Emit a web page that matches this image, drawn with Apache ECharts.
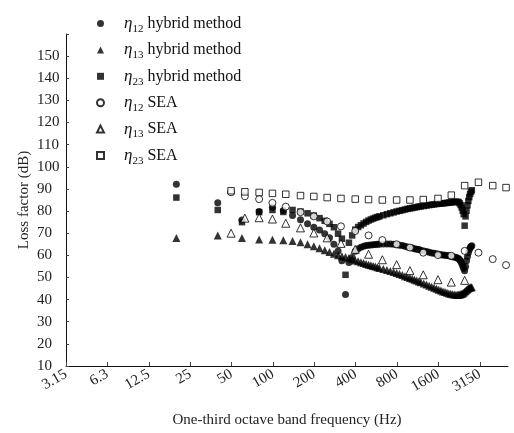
<!DOCTYPE html>
<html><head><meta charset="utf-8">
<script src="https://cdn.jsdelivr.net/npm/echarts/dist/echarts.min.js"></script>
<style>html,body{margin:0;padding:0;background:#fff;}#c{width:514px;height:433px;}</style>
</head><body><div id="c"></div>
<script>
// ---- tick labels (one per octave) ----
const tickLabels = ['3.15','6.3','12.5','25','50','100','200','400','800','1600','3150'];
const baseFreq = 3.15;

// ---- hybrid method (Hz) ----
const hybridFreq = [20,40,60,80,100,120,140,160,180,200,
  220,240,260,280,300,320,340,360,380,400,
  420,440,460,480,500,520,540,560,580,600,
  640,680,720,760,800,840,880,920,960,1000,
  1040,1080,1120,1160,1200,
  1260,1320,1380,1440,1500,1560,1620,1680,1740,1800,
  1860,1920,1980,2040,2100,2160,2220,
  2260,2300,2340,2380,2420,2460,2500,2540,2580,2620,
  2660,2700,2740,2780,2820];
const hybridEta12 = [92.1,83.8,76.0,79.8,81.7,80.2,78.0,76.1,74.3,72.7,
  71.5,69.8,67.9,65.0,62.0,57.6,42.3,56.8,59.0,61.8,
  63.0,63.7,64.1,64.4,64.6,64.7,64.8,64.9,65.0,65.0,
  65.1,65.1,65.1,65.0,64.8,64.6,64.4,64.1,63.8,63.5,
  63.3,63.0,62.8,62.6,62.3,
  62.0,61.7,61.4,61.1,60.9,60.7,60.5,60.3,60.2,60.0,
  59.9,59.8,59.6,59.4,59.2,59.0,58.8,
  58.5,58.0,57.3,56.3,55.2,54.0,53.0,55.0,57.5,59.5,
  61.2,62.5,63.4,64.0,64.3];
const hybridEta13 = [67.8,69.0,67.8,67.2,67.0,66.8,66.5,65.9,65.0,64.1,
  63.2,62.3,61.5,60.7,60.0,59.6,59.2,58.8,58.2,57.7,
  57.3,56.9,56.5,56.1,55.8,55.5,55.2,54.9,54.6,54.3,
  53.8,53.4,52.9,52.5,52.0,51.6,51.1,50.6,50.2,49.8,
  49.4,49.0,48.6,48.2,47.8,
  47.3,46.8,46.3,45.8,45.3,44.9,44.5,44.1,43.7,43.4,
  43.1,42.8,42.6,42.4,42.3,42.2,42.2,
  42.2,42.3,42.4,42.6,42.8,43.1,43.5,43.9,44.3,44.7,
  45.0,45.3,45.5,45.6,45.6];
const hybridEta23 = [86.1,80.5,75.0,79.5,80.5,79.6,80.5,79.8,79.0,78.0,
  76.8,75.6,74.2,72.7,69.8,67.5,51.2,65.7,69.0,71.6,
  72.8,73.6,74.4,75.1,75.7,76.2,76.6,77.0,77.3,77.6,
  78.1,78.6,79.0,79.4,79.8,80.1,80.4,80.7,81.0,81.2,
  81.4,81.6,81.8,82.0,82.1,
  82.3,82.5,82.7,82.9,83.0,83.2,83.3,83.4,83.5,83.6,
  83.7,83.8,83.9,84.0,84.1,84.2,84.2,
  84.0,83.5,82.7,81.6,80.2,78.6,73.4,77.6,80.2,82.6,
  84.6,86.3,87.7,88.7,89.4];

// ---- SEA (one-third octave band centres, Hz) ----
const seaFreq = [50,63,80,100,125,160,200,250,315,400,500,630,800,1000,1250,1600,2000,2500,3150,4000,5000];
const seaEta12 = [88.5,86.7,85.4,83.7,82.0,79.5,77.6,75.3,73.1,71.0,69.0,66.9,65.0,63.5,61.2,60.1,59.8,62.0,61.2,58.3,55.6];
const seaEta13 = [70.0,76.8,77.0,76.4,74.5,72.4,70.1,67.9,65.4,62.7,60.5,58.0,55.8,53.1,51.2,49.0,47.9,48.7];
const seaEta23 = [89.2,88.7,88.4,88.0,87.6,87.0,86.6,86.1,85.7,85.4,85.2,85.0,85.0,85.0,85.2,85.7,87.2,91.5,93.0,91.5,90.6];

[hybridEta12,hybridEta13,hybridEta23].forEach(a=>{ if(a.length!==hybridFreq.length) throw new Error('hybrid length '+a.length+' vs '+hybridFreq.length); });
[seaEta12,seaEta23].forEach(a=>{ if(a.length!==seaFreq.length) throw new Error('sea length'); });

const octave = f => Math.log2(f / baseFreq);
const pts = (freq, vals) => vals.map((v, i) => [octave(freq[i]), v]);

const font = 'Liberation Serif';
const legendText = {
  h12: '{e|η}{s|12}{t| hybrid method}',
  h13: '{e|η}{s|13}{t| hybrid method}',
  h23: '{e|η}{s|23}{t| hybrid method}',
  s12: '{e|η}{s|12}{t| SEA}',
  s13: '{e|η}{s|13}{t| SEA}',
  s23: '{e|η}{s|23}{t| SEA}'
};
const filled = {color:'#000'};
const open = {color:'#fff', borderColor:'#000', borderWidth:1};

const chart = echarts.init(document.getElementById('c'), null, {renderer:'canvas'});
chart.setOption({
  animation: false,
  backgroundColor: '#fff',
  grid: {left: 66, right: 6, top: 34, bottom: 61},
  legend: {
    orient: 'vertical', left: 91, top: 10, itemGap: 6.9,
    itemWidth: 7, itemHeight: 7,
    data: [
      {name:'h12', icon:'circle'},
      {name:'h13', icon:'triangle'},
      {name:'h23', icon:'rect'},
      {name:'s12', icon:'circle'},
      {name:'s13', icon:'triangle'},
      {name:'s23', icon:'rect'}
    ],
    formatter: n => legendText[n],
    textStyle: {
      padding: [0,0,0,15],
      color: '#111',
      rich: {
        e: {fontFamily: font, fontStyle:'italic', fontSize: 17, lineHeight: 22, color:'#111'},
        s: {fontFamily: font, fontSize: 11, lineHeight: 8, verticalAlign:'bottom', color:'#111'},
        t: {fontFamily: font, fontSize: 16, lineHeight: 22, color:'#111'}
      }
    }
  },
  xAxis: {
    type: 'value', min: 0, max: 10.68, interval: 1,
    name: 'One-third octave band frequency (Hz)',
    nameLocation: 'middle', nameGap: 47, nameMoveOverlap: false,
    nameTextStyle: {fontFamily: font, fontSize: 15, color:'#222'},
    splitLine: {show:false},
    axisLine: {lineStyle:{color:'#111', width:1}},
    axisTick: {inside:true, length:4, lineStyle:{color:'#444'}},
    axisLabel: {
      rotate: 30, margin: 7, showMaxLabel: false,
      fontFamily: font, fontSize: 15, color:'#222',
      formatter: v => (Number.isInteger(v) && tickLabels[v] !== undefined) ? tickLabels[v] : ''
    }
  },
  yAxis: {
    type: 'value', min: 10, max: 160, interval: 10,
    name: 'Loss factor (dB)', nameLocation: 'middle', nameGap: 34, nameMoveOverlap: false,
    nameTextStyle: {fontFamily: font, fontSize: 15, color:'#222'},
    splitLine: {show:false},
    axisLine: {show:true, lineStyle:{color:'#111', width:1}},
    axisTick: {show:true, inside:true, length:3, lineStyle:{color:'#444'}},
    axisLabel: {
      align: 'left', margin: 29,
      fontFamily: font, fontSize: 15, color:'#222',
      formatter: v => v === 160 ? '' : String(v)
    }
  },
  series: [
    {name:'h12', type:'scatter', symbol:'circle', symbolSize:7, itemStyle:filled, data: pts(hybridFreq, hybridEta12)},
    {name:'h13', type:'scatter', symbol:'triangle', symbolSize:8, itemStyle:filled, data: pts(hybridFreq, hybridEta13)},
    {name:'h23', type:'scatter', symbol:'rect', symbolSize:6.5, itemStyle:filled, data: pts(hybridFreq, hybridEta23)},
    {name:'s12', type:'scatter', symbol:'circle', symbolSize:7, itemStyle:open, data: pts(seaFreq, seaEta12)},
    {name:'s13', type:'scatter', symbol:'triangle', symbolSize:8, itemStyle:open, data: pts(seaFreq.slice(0, seaEta13.length), seaEta13)},
    {name:'s23', type:'scatter', symbol:'rect', symbolSize:6.5, itemStyle:open, data: pts(seaFreq, seaEta23)}
  ]
});
</script>
</body></html>
